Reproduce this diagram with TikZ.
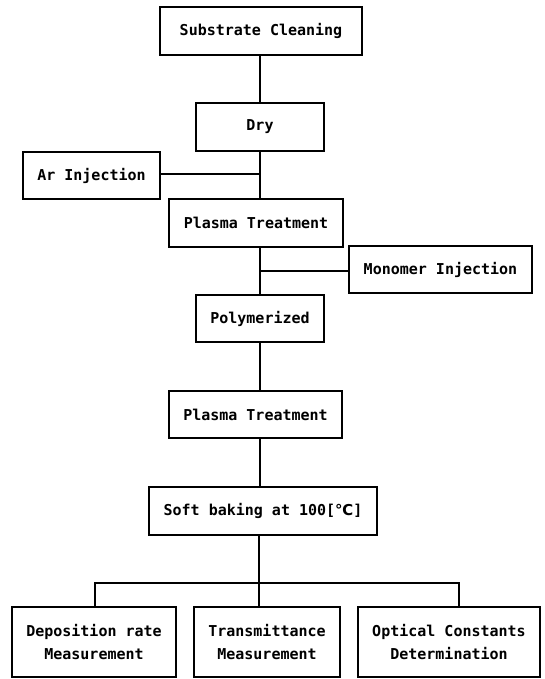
\documentclass[tikz,border=0pt]{standalone}
\usepackage{fontspec}
\setmonofont{DejaVu Sans Mono}
\newfontfamily\symfont{DejaVu Sans}
\begin{document}
\begin{tikzpicture}[x=1pt,y=-1pt,
  box/.style={draw, line width=1.4pt, inner sep=0pt, align=center,
    font=\ttfamily\bfseries\fontsize{15}{23}\selectfont},
  conn/.style={line width=1.4pt}]
\useasboundingbox (0,0) rectangle (545,679);
\node[box, minimum width=202pt, minimum height=48pt] (sc) at (261,31) {Substrate Cleaning};
\node[box, minimum width=128pt, minimum height=48pt] (dry) at (260,127) {Dry};
\node[box, minimum width=137pt, minimum height=47pt] (ar) at (91.5,175.5) {Ar Injection};
\node[box, minimum width=174pt, minimum height=48pt] (pt1) at (256,223) {Plasma Treatment};
\node[box, minimum width=183pt, minimum height=47pt] (mono) at (440.5,269.5) {Monomer Injection};
\node[box, minimum width=128pt, minimum height=47pt] (poly) at (260,318.5) {Polymerized};
\node[box, minimum width=173pt, minimum height=47pt] (pt2) at (255.5,414.5) {Plasma Treatment};
\node[box, minimum width=228pt, minimum height=48pt] (soft) at (263,511) {Soft baking at 100[{\symfont\bfseries ℃}]};
\node[box, minimum width=164pt, minimum height=70pt] (dep) at (94,642) {Deposition rate\\Measurement};
\node[box, minimum width=146pt, minimum height=70pt] (tra) at (267,642) {Transmittance\\Measurement};
\node[box, minimum width=182pt, minimum height=70pt] (opt) at (449,642) {Optical Constants\\Determination};
\coordinate (arj) at (0,174);
\coordinate (monoj) at (0,271);
\coordinate (j) at (259,583);
\coordinate (bl) at (95,583);
\coordinate (br) at (459,583);
\draw[conn] (sc.south -| dry.north) -- (dry.north);
\draw[conn] (dry.south) -- (dry.south |- pt1.north);
\draw[conn] (ar.east |- arj) -- (dry.south |- arj);
\draw[conn] (pt1.south -| poly.north) -- (poly.north);
\draw[conn] (mono.west |- monoj) -- (poly.north |- monoj);
\draw[conn] (poly.south) -- (poly.south |- pt2.north);
\draw[conn] (poly.south |- pt2.south) -- (poly.south |- soft.north);
\draw[conn] (j |- soft.south) -- (j |- tra.north);
\draw[conn] (bl |- dep.north) -- (bl) -- (br) -- (br |- opt.north);
\end{tikzpicture}
\end{document}
